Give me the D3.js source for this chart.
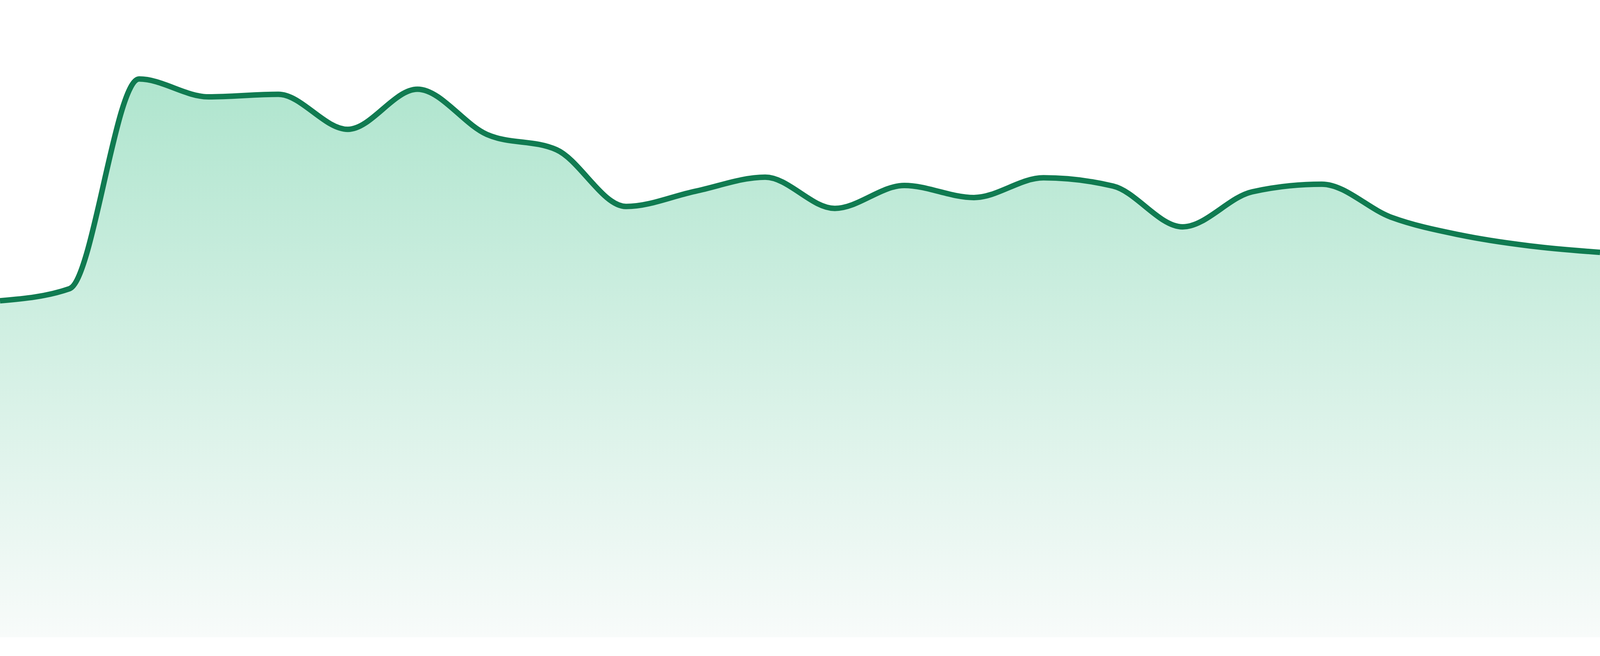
<!DOCTYPE html>
<html>
<head>
<meta charset="utf-8">
<script src="https://cdn.jsdelivr.net/npm/d3@7"></script>
<style>
    html, body { margin: 0; padding: 0; background: #fff; overflow: hidden; }
    svg { display: block; width: 100vw; height: 100vh; }
</style>
</head>
<body>
<div id="chart"></div>
<script>
// one value per day
const days = ['01', '02', '03', '04', '05', '06', '07', '08', '09', '10', '11', '12',
    '13', '14', '15', '16', '17', '18', '19', '20', '21', '22', '23', '24']
const values = [52.8, 54.7, 87.6, 84.8, 85.2, 79.7, 86.0, 78.9, 76.5, 67.6, 70.0, 72.2,
    67.3, 70.9, 69.0, 72.1, 70.8, 64.4, 69.9, 71.1, 65.9, 63.1, 61.4, 60.4]
const yDomain = [0, 100]

const data = days.map((d, i) => ({ day: d, value: values[i] }))

// drawn in a fixed 4800x1680 box, stretched over the whole window
let dim = {
    width: 4800,
    height: 1680,
    margin: { top: 0, right: 0, bottom: 48, left: 0 }
}
dim.boundedWidth = dim.width - dim.margin.left - dim.margin.right
dim.boundedHeight = dim.height - dim.margin.top - dim.margin.bottom

const x = d3.scalePoint().domain(days).range([0, dim.boundedWidth])
const y = d3.scaleLinear().domain(yDomain).range([dim.boundedHeight, 0])

const wrapper = d3.select('#chart').append('svg')
    .attr('viewBox', `0 0 ${dim.width} ${dim.height}`)
    .attr('preserveAspectRatio', 'none')

const grad = wrapper.append('defs').append('linearGradient')
    .attr('id', 'fillGrad')
    .attr('gradientUnits', 'userSpaceOnUse')
    .attr('x1', 0).attr('x2', 0)
    .attr('y1', y(d3.max(values))).attr('y2', dim.boundedHeight)
grad.append('stop').attr('offset', '0%').attr('stop-color', '#afe5ce')
grad.append('stop').attr('offset', '100%').attr('stop-color', '#f8fbfa')

const bounds = wrapper.append('g')
    .attr('transform', `translate(${dim.margin.left},${dim.margin.top})`)

const area = d3.area()
    .x(d => x(d.day))
    .y0(dim.boundedHeight)
    .y1(d => y(d.value))
    .curve(d3.curveMonotoneX)

const line = d3.line()
    .x(d => x(d.day))
    .y(d => y(d.value))
    .curve(d3.curveMonotoneX)

bounds.append('path').datum(data)
    .attr('d', area)
    .attr('fill', 'url(#fillGrad)')

// stroke stays even when the box is stretched
bounds.append('path').datum(data)
    .attr('d', line)
    .attr('fill', 'none')
    .attr('stroke', '#107b51')
    .attr('stroke-width', 14)
    .attr('stroke-linejoin', 'round')
    .attr('vector-effect', 'non-scaling-stroke')
</script>
</body>
</html>
